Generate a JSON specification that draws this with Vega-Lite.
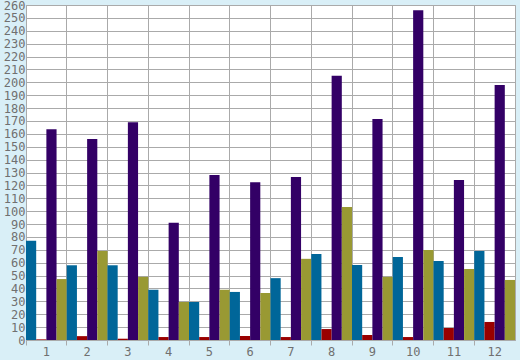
{
  "$schema": "https://vega.github.io/schema/vega-lite/v6.json",
  "width": 489,
  "height": 335,
  "autosize": {"type": "none"},
  "padding": {"left": 26, "top": 5, "right": 5, "bottom": 20},
  "background": "#d9eff7",
  "config": {
    "view": {"fill": "#ffffff", "stroke": "#aaaaaa", "strokeWidth": 1},
    "axis": {"labelFont": "DejaVu Sans Mono", "labelFontSize": 12, "labelColor": "#707070", "gridColor": "#aaaaaa", "gridOpacity": 1, "gridWidth": 1}
  },
  "data": {
    "values": [
      {"g": "1", "s": "a", "v": 77}, {"g": "1", "s": "b", "v": 0.5}, {"g": "1", "s": "c", "v": 163.5}, {"g": "1", "s": "d", "v": 47.3},
      {"g": "2", "s": "a", "v": 58}, {"g": "2", "s": "b", "v": 3}, {"g": "2", "s": "c", "v": 156}, {"g": "2", "s": "d", "v": 69},
      {"g": "3", "s": "a", "v": 58}, {"g": "3", "s": "b", "v": 1}, {"g": "3", "s": "c", "v": 169}, {"g": "3", "s": "d", "v": 49},
      {"g": "4", "s": "a", "v": 39}, {"g": "4", "s": "b", "v": 2.3}, {"g": "4", "s": "c", "v": 91}, {"g": "4", "s": "d", "v": 29.5},
      {"g": "5", "s": "a", "v": 29.5}, {"g": "5", "s": "b", "v": 2.3}, {"g": "5", "s": "c", "v": 128}, {"g": "5", "s": "d", "v": 39},
      {"g": "6", "s": "a", "v": 37.3}, {"g": "6", "s": "b", "v": 3.1}, {"g": "6", "s": "c", "v": 122.5}, {"g": "6", "s": "d", "v": 36.5},
      {"g": "7", "s": "a", "v": 48}, {"g": "7", "s": "b", "v": 2.3}, {"g": "7", "s": "c", "v": 126.5}, {"g": "7", "s": "d", "v": 63},
      {"g": "8", "s": "a", "v": 66.7}, {"g": "8", "s": "b", "v": 8.5}, {"g": "8", "s": "c", "v": 205}, {"g": "8", "s": "d", "v": 103.2},
      {"g": "9", "s": "a", "v": 58.2}, {"g": "9", "s": "b", "v": 3.9}, {"g": "9", "s": "c", "v": 171.5}, {"g": "9", "s": "d", "v": 49},
      {"g": "10", "s": "a", "v": 64.4}, {"g": "10", "s": "b", "v": 2.3}, {"g": "10", "s": "c", "v": 256}, {"g": "10", "s": "d", "v": 69.8},
      {"g": "11", "s": "a", "v": 61.3}, {"g": "11", "s": "b", "v": 9.3}, {"g": "11", "s": "c", "v": 124.2}, {"g": "11", "s": "d", "v": 55.1},
      {"g": "12", "s": "a", "v": 69.1}, {"g": "12", "s": "b", "v": 14}, {"g": "12", "s": "c", "v": 198}, {"g": "12", "s": "d", "v": 46.6}
    ]
  },
  "mark": {"type": "bar"},
  "encoding": {
    "x": {
      "field": "g", "type": "nominal", "sort": null,
      "scale": {"paddingInner": 0, "paddingOuter": 0},
      "axis": {"title": null, "labelAngle": 0, "bandPosition": 0, "grid": true, "domain": true, "domainColor": "#aaaaaa", "ticks": true, "tickColor": "#aaaaaa", "tickSize": 5, "labelPadding": 1}
    },
    "xOffset": {"field": "s", "type": "nominal", "sort": ["a", "b", "c", "d"], "scale": {"paddingInner": 0, "paddingOuter": 0}},
    "y": {
      "field": "v", "type": "quantitative",
      "scale": {"domain": [0, 260], "nice": false},
      "axis": {"title": null, "values": [0,10,20,30,40,50,60,70,80,90,100,110,120,130,140,150,160,170,180,190,200,210,220,230,240,250,260], "ticks": false, "domain": false, "labelPadding": 1, "labelOverlap": false, "labelBound": false, "grid": true}
    },
    "color": {
      "field": "s", "type": "nominal",
      "scale": {"domain": ["a", "b", "c", "d"], "range": ["#006699", "#990000", "#330066", "#999933"]},
      "legend": null
    }
  }
}
